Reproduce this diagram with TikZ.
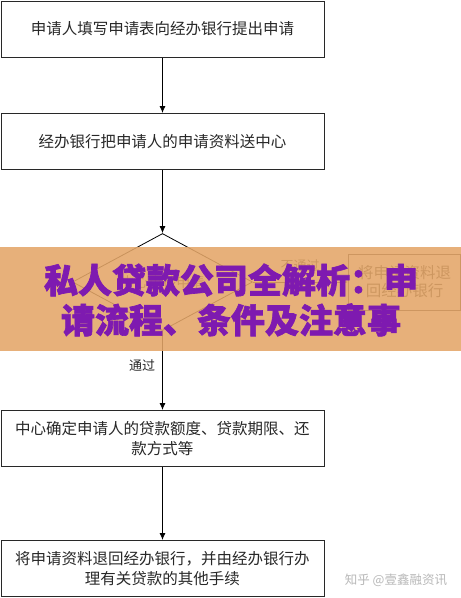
\documentclass[tikz,border=0pt]{standalone}
\usepackage{fontspec}
\setmainfont{Noto Sans CJK SC}[BoldFeatures={FakeBold=2}]
\usetikzlibrary{shapes.geometric,arrows.meta}
\definecolor{bannerorange}{RGB}{228,166,104}
\definecolor{bannerpurple}{RGB}{126,26,176}
\definecolor{inkgray}{RGB}{40,40,40}
\tikzset{
  box/.style={draw=inkgray, line width=1pt, minimum width=323pt, minimum height=56pt,
    inner sep=0pt, align=center, font=\fontsize{15.5}{19.5}\selectfont, text=inkgray},
  sidebox/.style={draw=inkgray, line width=1pt, minimum width=112pt, minimum height=56pt,
    inner sep=0pt, align=center, font=\fontsize{15.5}{18}\selectfont, text=inkgray},
  decision/.style={draw=black, line width=0.8pt, diamond, minimum width=180pt, minimum height=94pt,
    inner sep=0pt, font=\fontsize{14}{16}\selectfont, text=inkgray},
  arr/.style={draw=black, line width=0.8pt, -{Latex[length=7pt,width=6pt]}},
  lbl/.style={font=\fontsize{13}{15}\selectfont, text=inkgray, inner sep=0pt},
  wmark/.style={font=\fontsize{12.5}{14}\selectfont, text=black!28, inner sep=0pt},
  banner/.style={fill=bannerorange, fill opacity=0.88, draw=none},
  bannertext/.style={font=\fontsize{34}{40}\bfseries\selectfont, text=bannerpurple, align=center, inner sep=0pt}
}
\begin{document}
\begin{tikzpicture}[x=1pt,y=-1pt]
\useasboundingbox (0,0) rectangle (461,598);
\fill[white] (0,0) rectangle (461,598);
\node[box] (b1) at (162.5,29) {申请人填写申请表向经办银行提出申请};
\node[box] (b2) at (162.5,141.5) {经办银行把申请人的申请资料送中心};
\node[decision] (dia) at (162.5,282) {中心审核申请};
\node[sidebox] (rb) at (404.5,282) {将申请资料退\\回经办银行};
\node[box] (b3) at (162.5,438.5) {中心确定申请人的贷款额度、贷款期限、还\\款方式等};
\node[box] (b4) at (162.5,568.5) {将申请资料退回经办银行，并由经办银行办\\理有关贷款的其他手续};
\draw[arr] (b1) -- (b2);
\draw[arr] (b2) -- (dia.north);
\draw[arr] (dia.east) -- (rb.west);
\draw[arr] (dia.south) -- (b3);
\draw[arr] (b3) -- (b4);
\node[lbl] (yes) at (142,366) {通过};
\node[lbl] (no) at (300,266) {不通过};
\node[wmark] (wm) at (396,580) {知乎 @壹鑫融资讯};
\path[banner] (0,247) rectangle (461,351);
\node[bannertext] (title) at (231,300) {私人贷款公司全解析：申\\请流程、条件及注意事};
\end{tikzpicture}
\end{document}
